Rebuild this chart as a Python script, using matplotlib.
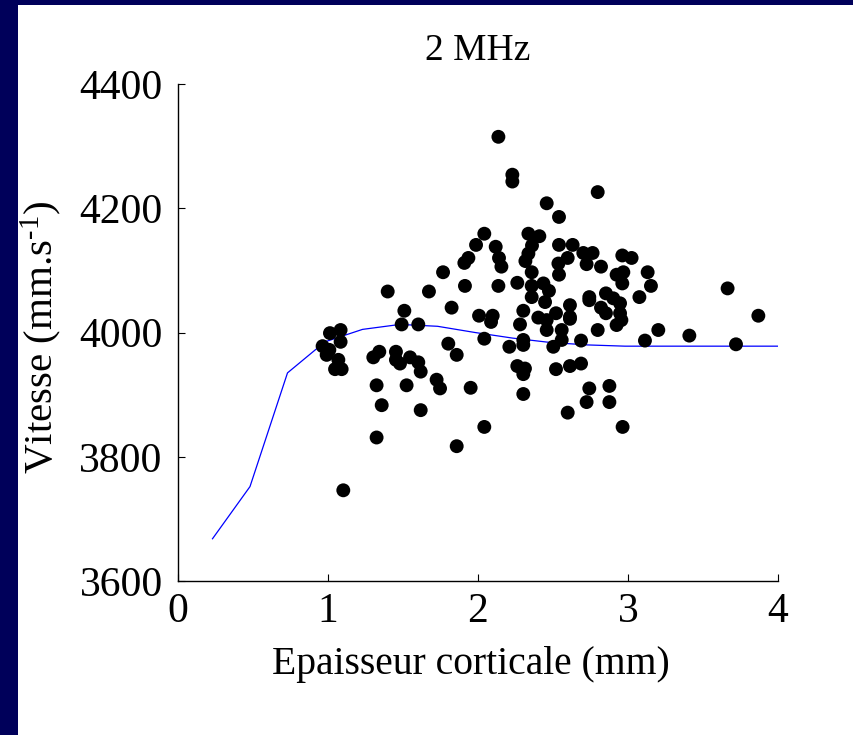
import matplotlib
matplotlib.use("Agg")
import matplotlib.pyplot as plt
from matplotlib.patches import Rectangle

# ---- data ----
x_points = [2.136, 2.229, 2.229, 2.458, 2.042, 2.336, 2.409, 1.987, 2.118, 2.360,
            1.936, 1.909, 2.140, 2.156, 2.336, 2.316, 2.358, 1.767, 1.398, 1.673,
            1.913, 2.136, 2.262, 2.358, 2.436, 2.358, 2.447, 1.509, 1.824, 2.007,
            2.098, 2.302, 2.402, 2.798, 2.540, 2.540, 2.631, 2.702, 2.764, 2.536,
            2.598, 2.724, 2.820, 2.962, 3.024, 2.540, 2.924, 2.969, 3.131, 2.962,
            3.153, 2.473, 2.613, 2.742, 2.742, 2.853, 2.902, 2.947, 2.820, 3.076,
            3.664, 3.869, 2.520, 2.613, 2.853, 2.947, 2.087, 2.458, 2.280, 1.013,
            1.084, 1.084, 0.964, 1.009, 0.991, 1.069, 1.047, 1.091, 1.491, 1.602,
            1.802, 1.858, 2.042, 2.209, 2.302, 2.302, 1.342, 1.302, 1.453, 1.453,
            1.480, 1.547, 1.602, 1.618, 1.724, 1.747, 1.324, 1.524, 1.951, 2.262,
            2.313, 2.302, 2.302, 1.358, 1.618, 2.042, 1.324, 1.858, 1.102, 2.458,
            2.613, 2.558, 2.798, 2.924, 2.956, 2.502, 2.558, 2.687, 3.113, 3.202,
            3.409, 3.720, 2.520, 2.613, 2.687, 2.742, 2.876, 2.724, 2.876, 2.598,
            2.964]
y_points = [4315, 4254, 4243, 4208, 4159, 4159, 4155, 4141, 4138, 4140,
            4120, 4112, 4120, 4106, 4127, 4115, 4097, 4097, 4066, 4066,
            4075, 4075, 4080, 4075, 4079, 4057, 4049, 4035, 4040, 4027,
            4027, 4035, 4024, 4226, 4186, 4141, 4141, 4128, 4128, 4111,
            4120, 4110, 4106, 4124, 4120, 4093, 4093, 4097, 4097, 4079,
            4075, 4067, 4044, 4057, 4052, 4063, 4055, 4047, 4040, 4057,
            4071, 4027, 4031, 4025, 4031, 4031, 4017, 4004, 4013, 3999,
            4004, 3985, 3978, 3972, 3964, 3956, 3941, 3941, 4013, 4013,
            3982, 3964, 3990, 3977, 3988, 3980, 3969, 3960, 3969, 3956,
            3950, 3960, 3952, 3937, 3924, 3910, 3915, 3915, 3911, 3946,
            3942, 3933, 3901, 3883, 3875, 3848, 3831, 3817, 3746, 4020,
            4022, 4004, 4004, 4012, 4020, 3977, 3988, 3987, 3987, 4004,
            3995, 3981, 3941, 3946, 3950, 3910, 3914, 3888, 3888, 3871,
            3848]

x_curve = [0.23, 0.48, 0.73, 0.98, 1.23, 1.48, 1.73, 1.98, 2.23, 2.48,
           2.73, 2.98, 3.23, 3.48, 3.73, 4.01]
y_curve = [3668, 3752, 3935, 3985, 4005, 4013, 4010, 4000, 3991, 3984,
           3980, 3978, 3978, 3978, 3978, 3978]

x_ticks = [0, 1, 2, 3, 4]
y_ticks = [3600, 3800, 4000, 4200, 4400]

title_text = "2 MHz"
x_label = "Epaisseur corticale (mm)"
y_label = "Vitesse (mm.s$^{\u2010\\mathrm{1}}$)"

# ---- style ----
plt.rcParams['font.family'] = ['Liberation Serif', 'DejaVu Serif']
plt.rcParams['mathtext.fontset'] = 'custom'
plt.rcParams['mathtext.rm'] = 'Liberation Serif'
plt.rcParams['mathtext.it'] = 'Liberation Serif:italic'
plt.rcParams['mathtext.bf'] = 'Liberation Serif:bold'

W, H = 854, 735
fig = plt.figure(figsize=(W / 100, H / 100), dpi=100, facecolor='white')

navy = '#00005a'
fig.patches.append(Rectangle((0, 0), 18 / W, 1, transform=fig.transFigure,
                             facecolor=navy, edgecolor='none', zorder=-1))
fig.patches.append(Rectangle((0, 1 - 5 / H), 1, 5 / H, transform=fig.transFigure,
                             facecolor=navy, edgecolor='none', zorder=-1))

ax = fig.add_axes([178 / W, 1 - 581 / H, 600 / W, (581 - 84) / H])
ax.plot(x_curve, y_curve, color='#0000ff', linewidth=0.9, zorder=2)
ax.scatter(x_points, y_points, s=100, color='black', edgecolors='none', zorder=3)

ax.set_xlim(0, 4)
ax.set_ylim(3600, 4400)
ax.set_xticks(x_ticks)
ax.set_yticks(y_ticks)
ax.spines['top'].set_visible(False)
ax.spines['right'].set_visible(False)
for s in ('left', 'bottom'):
    ax.spines[s].set_linewidth(1.0)
    ax.spines[s].set_color('black')
ax.tick_params(direction='in', length=5, width=0.8, labelsize=30)
ax.tick_params(axis='y', pad=11)
ax.tick_params(axis='x', pad=8)

ax.set_title(title_text, fontsize=27, pad=17)
ax.set_xlabel(x_label, fontsize=28.5)
ax.xaxis.set_label_coords((471 - 178) / 600, -(646 - 581) / 497)
ax.xaxis.label.set_va('top')
ax.set_ylabel(y_label, fontsize=29.5)
ax.yaxis.set_label_coords(-(178 - 64) / 600, 0.49)

fig.savefig('out.png', dpi=100, facecolor='white')
